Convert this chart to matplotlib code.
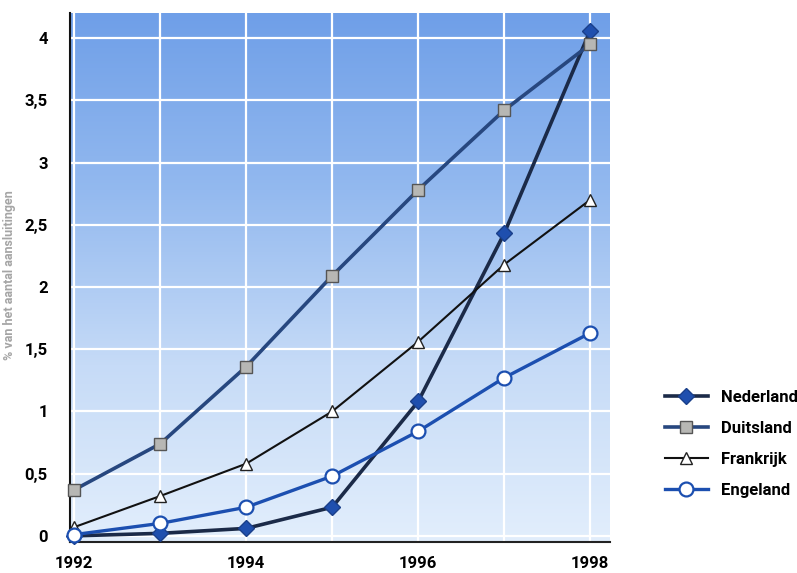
import numpy as np
import matplotlib
matplotlib.use("Agg")
import matplotlib.pyplot as plt
from matplotlib.colors import LinearSegmentedColormap
from matplotlib.lines import Line2D
from matplotlib import font_manager

years = [1992, 1993, 1994, 1995, 1996, 1997, 1998]
nederland = [0.0, 0.02, 0.06, 0.23, 1.08, 2.43, 4.06]
duitsland = [0.37, 0.74, 1.36, 2.09, 2.78, 3.42, 3.95]
frankrijk = [0.07, 0.32, 0.58, 1.0, 1.56, 2.18, 2.70]
engeland = [0.01, 0.10, 0.23, 0.48, 0.84, 1.27, 1.63]
series_names = ["Nederland", "Duitsland", "Frankrijk", "Engeland"]
x_ticks = [1992, 1994, 1996, 1998]
y_ticks = [0, 0.5, 1, 1.5, 2, 2.5, 3, 3.5, 4]
y_ticklabels = ["0", "0,5", "1", "1,5", "2", "2,5", "3", "3,5", "4"]
y_label = "% van het aantal aansluitingen"

names = {f.name for f in font_manager.fontManager.ttflist}
fam = ["Liberation Sans Narrow"] if "Liberation Sans Narrow" in names else ["Roboto"]
fam = fam + ["DejaVu Sans"]
plt.rcParams['font.family'] = fam

fig = plt.figure(figsize=(7.97, 5.73), dpi=100)
ax = fig.add_axes([0.0878, 0.054, 0.6775, 0.923])
ax.set_xlim(1991.95, 1998.23)
ax.set_ylim(-0.05, 4.2)

cmap = LinearSegmentedColormap.from_list("bg", ["#e2eefc", "#c6dbf7", "#93b9ef", "#6f9fe8"])
grad = np.linspace(0, 1, 256).reshape(-1, 1)
ax.imshow(grad, extent=[0, 1, 0, 1], transform=ax.transAxes, origin="lower",
          cmap=cmap, aspect="auto", zorder=0)

for yv in y_ticks:
    ax.axhline(yv, color="white", lw=1.6, zorder=1)
for xv in years:
    ax.axvline(xv, color="white", lw=1.6, zorder=1)

styles = [
    dict(color="#1b2a48", lw=2.6, marker="D", ms=8, mfc="#1f4fae", mec="#1a3f8a"),
    dict(color="#27477f", lw=2.6, marker="s", ms=9, mfc="#b7b7b4", mec="#555555"),
    dict(color="#111111", lw=1.5, marker="^", ms=8, mfc="white", mec="#222222"),
    dict(color="#1c4fb0", lw=2.4, marker="o", ms=10, mfc="white", mec="#1c4fb0", mew=1.6),
]
data = [nederland, duitsland, frankrijk, engeland]
order = [2, 3, 1, 0]
for i in order:
    ax.plot(years, data[i], zorder=3 + i, clip_on=False, **styles[i])

for s in ["top", "right"]:
    ax.spines[s].set_visible(False)
ax.spines["left"].set_color("#111111")
ax.spines["left"].set_linewidth(1.5)
ax.spines["bottom"].set_color("#222222")
ax.spines["bottom"].set_linewidth(1.5)
ax.spines["left"].set_zorder(2)

ax.set_xticks(x_ticks)
ax.set_xticklabels([str(v) for v in x_ticks], fontsize=12, fontweight="bold")
ax.set_yticks(y_ticks)
ax.set_yticklabels(y_ticklabels, fontsize=12, fontweight="bold")
ax.tick_params(length=0, pad=10)
ax.tick_params(axis="y", pad=16)

fig.text(0.012, 0.52, y_label, rotation=90, ha="center", va="center",
         fontsize=9, color="#a5a5a5", fontweight="bold")

handles = [Line2D([0], [0], **styles[i]) for i in range(4)]
leg = fig.legend(handles, series_names, loc="center left", bbox_to_anchor=(0.815, 0.225),
                 frameon=False, handlelength=2.6, labelspacing=0.95,
                 prop=dict(family=fam, weight="bold", size=12))

fig.savefig("out.png", dpi=100, facecolor="white")
